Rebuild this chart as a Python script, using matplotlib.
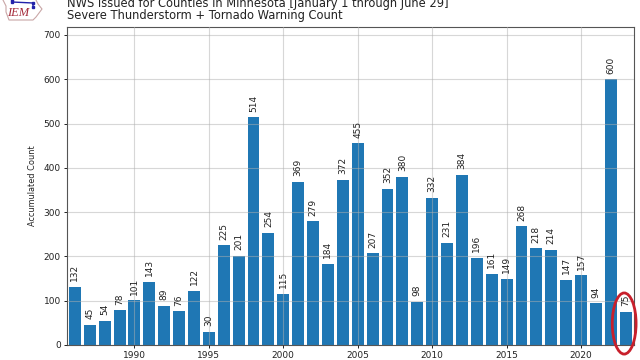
import matplotlib
matplotlib.use('Agg')
import matplotlib.pyplot as plt
from matplotlib.patches import Ellipse

years = list(range(1986, 2024))
counts = [132, 45, 54, 78, 101, 143, 89, 76, 122, 30, 225, 201, 514, 254, 115,
          369, 279, 184, 372, 455, 207, 352, 380, 98, 332, 231, 384, 196, 161,
          149, 268, 218, 214, 147, 157, 94, 600, 75]
y_ticks = [0, 100, 200, 300, 400, 500, 600, 700]
x_ticks = [1990, 1995, 2000, 2005, 2010, 2015, 2020]
title1 = 'NWS Issued for Counties in Minnesota [January 1 through June 29]'
title2 = 'Severe Thunderstorm + Tornado Warning Count'

fig = plt.figure(figsize=(6.4, 3.6), dpi=100)
ax = fig.add_axes([67 / 640, 1 - 345 / 360, 567 / 640, 318 / 360])

ax.bar(years, counts, width=0.8, color='#1f77b4', zorder=2)
for yr, c in zip(years, counts):
    ax.text(yr, c + 13, str(c), rotation=90, ha='center', va='bottom',
            fontsize=6.5, color='#222222', zorder=3)

ax.set_xlim(1985.47, 2023.56)
ax.set_ylim(0, 718)
ax.set_xticks(x_ticks)
ax.set_yticks(y_ticks)
ax.tick_params(labelsize=6.5, length=2.5, width=0.7, pad=2, colors='#222222')
ax.grid(True, color='#b0b0b0', linewidth=0.8, zorder=1)
ax.set_axisbelow(False)
for line in ax.get_xgridlines() + ax.get_ygridlines():
    line.set_alpha(0.5)
ax.set_ylabel('Accumulated Count', fontsize=5.9, color='#222222')
ax.yaxis.set_label_coords(-30 / 567, 0.5)
for s in ax.spines.values():
    s.set_linewidth(0.8)
    s.set_color('#555555')

fig.text(67 / 640, 1 - 3 / 360, title1, fontsize=8.3, va='center', color='#222222')
fig.text(67 / 640, 1 - 16 / 360, title2, fontsize=8.3, va='center', color='#222222')

# red hand drawn ring round the last bar
ax.add_patch(Ellipse((2022.9, 48.5), 1.6, 138, fill=False, edgecolor='#c8202c',
                     linewidth=2.0, zorder=5, clip_on=False))

# logo in the corner
logo = fig.add_axes([0, 1 - 22 / 360, 44 / 640, 22 / 360])
logo.set_xlim(0, 44)
logo.set_ylim(22, 0)
logo.axis('off')
logo.plot([3, 6, 6, 9, 33, 36, 42, 38, 36], [0, 6, 12, 20, 20, 17, 9, 4, 0],
          color='#c9a6a6', linewidth=0.8)
logo.plot([12, 12, 33, 33], [0, 2, 3, 7], color='#2222aa', linewidth=1.0, marker='s', markersize=1.5)
logo.text(7.5, 13, 'IEM', fontsize=9, color='#a52a3a', family='Liberation Serif',
          style='italic', va='center')

fig.savefig('out.png', dpi=100)
